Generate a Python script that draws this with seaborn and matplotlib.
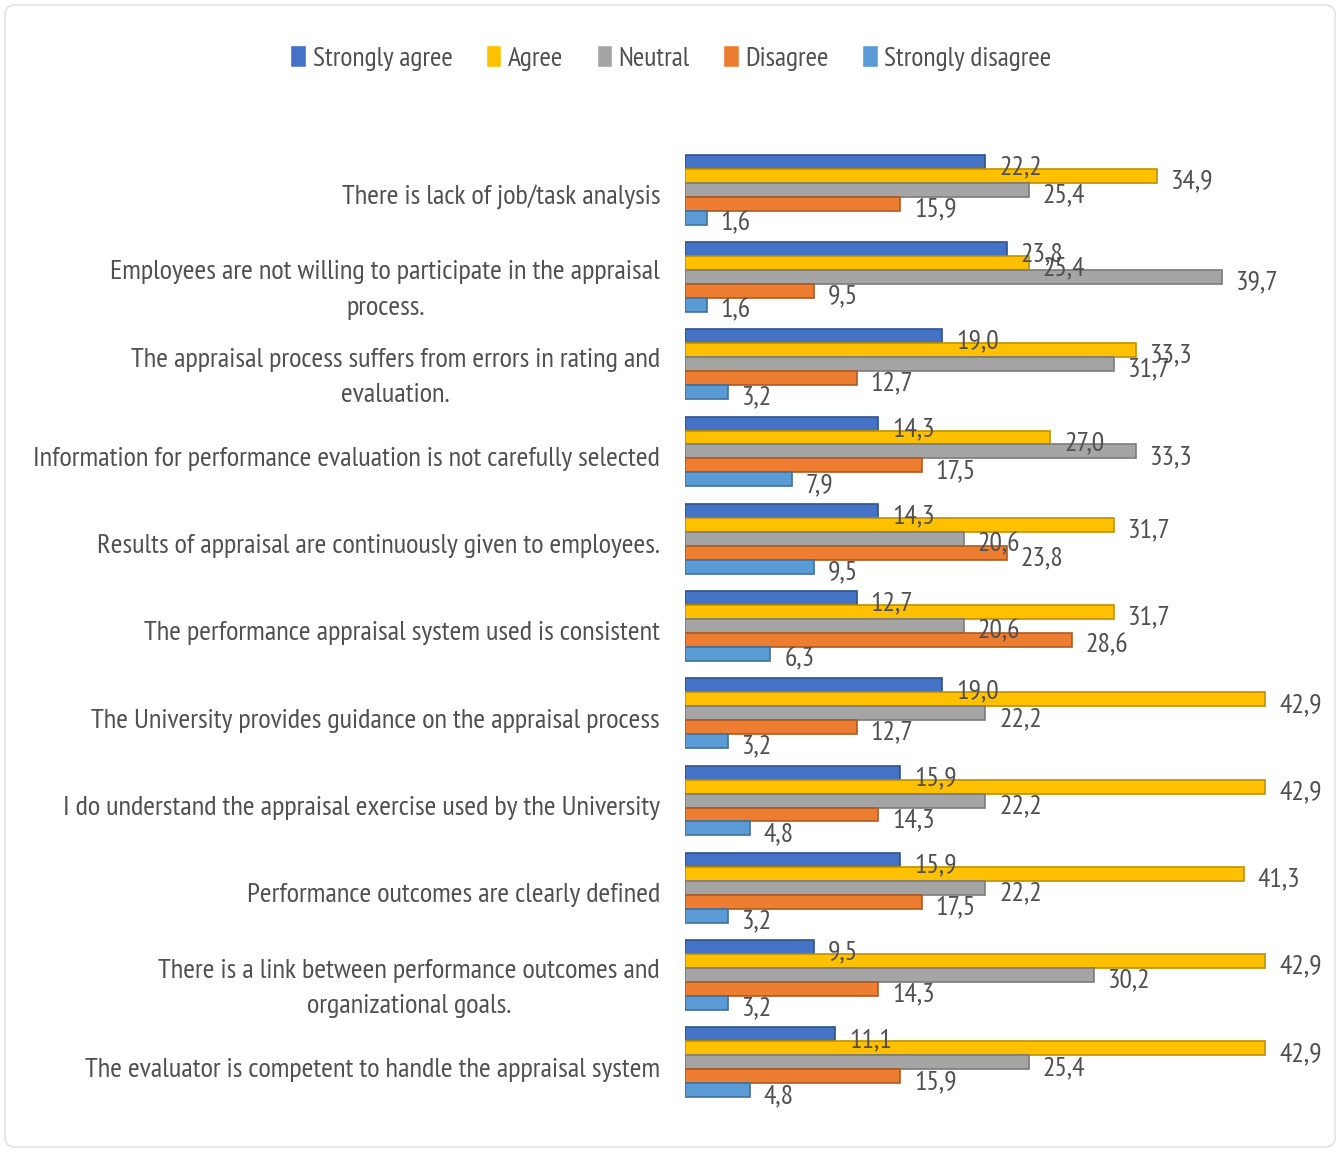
import matplotlib
matplotlib.use("Agg")
import matplotlib.pyplot as plt
import matplotlib.transforms as mtransforms
from matplotlib.patches import FancyBboxPatch
import seaborn as sns
import pandas as pd

categories = [
    "There is lack of job/task analysis",
    "Employees are not willing to participate in the appraisal\nprocess.",
    "The appraisal process suffers from errors in rating and\nevaluation.",
    "Information for performance evaluation is not carefully selected",
    "Results of appraisal are continuously given to employees.",
    "The performance appraisal system used is consistent",
    "The University provides guidance on the appraisal process",
    "I do understand the appraisal exercise used by the University",
    "Performance outcomes are clearly defined",
    "There is a link between performance outcomes and\norganizational goals.",
    "The evaluator is competent to handle the appraisal system",
]
series_names = ["Strongly agree", "Agree", "Neutral", "Disagree", "Strongly disagree"]
strongly_agree = [22.2, 23.8, 19.0, 14.3, 14.3, 12.7, 19.0, 15.9, 15.9, 9.5, 11.1]
agree = [34.9, 25.4, 33.3, 27.0, 31.7, 31.7, 42.9, 42.9, 41.3, 42.9, 42.9]
neutral = [25.4, 39.7, 31.7, 33.3, 20.6, 20.6, 22.2, 22.2, 22.2, 30.2, 25.4]
disagree = [15.9, 9.5, 12.7, 17.5, 23.8, 28.6, 12.7, 14.3, 17.5, 14.3, 15.9]
strongly_disagree = [1.6, 1.6, 3.2, 7.9, 9.5, 6.3, 3.2, 4.8, 3.2, 3.2, 4.8]
colors = ["#4472C4", "#FFC000", "#A5A5A5", "#ED7D31", "#5B9BD5"]
edge_colors = ["#2F528F", "#BF9000", "#7B7B7B", "#AE5A21", "#41719C"]

rows = []
for name, vals in zip(series_names,
                      [strongly_agree, agree, neutral, disagree, strongly_disagree]):
    for c, v in zip(categories, vals):
        rows.append({"category": c, "series": name, "value": v})
df = pd.DataFrame(rows)

sns.set_theme(style="white")
FONT = ["PT Sans Narrow", "Liberation Sans", "DejaVu Sans"]
plt.rcParams["font.family"] = FONT
plt.rcParams["font.weight"] = "normal"
TXT = "#505050"

fig = plt.figure(figsize=(13.42, 11.52), dpi=100)
ax = fig.add_axes([685 / 1342, 1 - 1106 / 1152, 640 / 1342, 960 / 1152])

sns.barplot(data=df, y="category", x="value", hue="series",
            order=categories, hue_order=series_names, palette=colors,
            orient="h", width=0.8, ax=ax, legend=True, saturation=1)

for cont, ec in zip(ax.containers, edge_colors):
    for bar in cont:
        bar.set_edgecolor(ec)
        bar.set_linewidth(1.2)
        w = bar.get_width()
        yc = bar.get_y() + bar.get_height() / 2
        ax.annotate(f"{w:.1f}".replace(".", ","), xy=(w, yc),
                    xytext=(10, -4), textcoords="offset points",
                    ha="left", va="center", fontsize=20, color=TXT,
                    family=FONT, fontweight="normal")

ax.set_xlim(0, 47.3)
ax.set_xlabel("")
ax.set_ylabel("")
ax.set_xticks([])
for s in ax.spines.values():
    s.set_visible(False)
ax.tick_params(axis="y", length=0, pad=18)
shift = mtransforms.ScaledTranslation(0, -5 / 100, fig.dpi_scale_trans)
for lab in ax.get_yticklabels():
    lab.set_fontsize(20.5)
    lab.set_color(TXT)
    lab.set_multialignment("center")
    lab.set_linespacing(1.6)
    lab.set_family(FONT)
    lab.set_fontweight("normal")
    lab.set_transform(lab.get_transform() + shift)

handles, labels = ax.get_legend_handles_labels()
ax.legend_.remove()
fig.legend(handles, labels, loc="center", bbox_to_anchor=(0.5, 1 - 58 / 1152),
           ncol=5, frameon=False, handlelength=0.55,
           handleheight=0.85, handletextpad=0.25, columnspacing=1.2,
           labelcolor=TXT, prop={"family": FONT, "size": 20, "weight": "normal"})

border = FancyBboxPatch((5 / 1342, 5 / 1152), 1330 / 1342, 1142 / 1152,
                        boxstyle="round,pad=0,rounding_size=0.008",
                        transform=fig.transFigure, fill=False,
                        edgecolor="#E3E3E3", linewidth=1.2)
fig.patches.append(border)

fig.savefig("out.png", dpi=100)
